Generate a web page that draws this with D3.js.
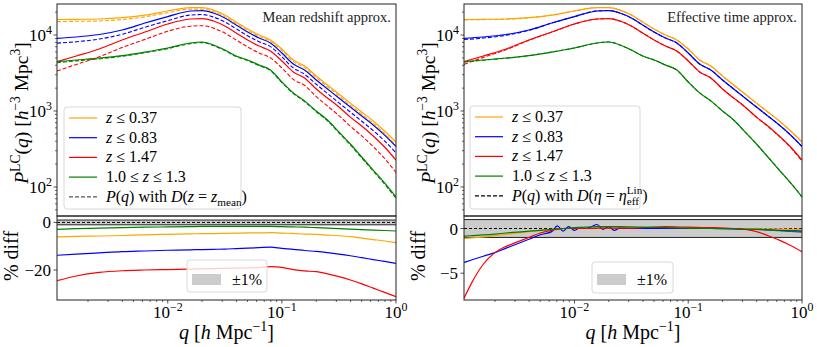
<!DOCTYPE html>
<html>
<head>
<meta charset="utf-8">
<script src="https://cdn.jsdelivr.net/npm/d3@7"></script>
<style>
  body { margin: 0; background: #fff; }
</style>
</head>
<body>
<div id="chart"></div>
<script>
// wavenumbers q [h/Mpc] for the power spectra
var q = [0.00107, 0.00158, 0.00251, 0.00398, 0.00631, 0.01, 0.0158, 0.02, 0.0251, 0.0316, 0.0398, 0.0501,
         0.0631, 0.0794, 0.1, 0.126, 0.158, 0.2, 0.251, 0.316, 0.398, 0.501, 0.631, 0.794, 1.0];

// light-cone spectra P^LC(q) (solid lines, same in both panels)
var pOrange = [16000, 16100, 16250, 16900, 18300, 20700, 23000, 23000, 21300, 18300, 14800, 12000,
               10000, 8600, 6550, 4690, 3910, 2890, 2200, 1670, 1270, 970, 740, 546, 391];
var pBlue   = [9060, 9410, 10150, 11640, 14390, 17500, 20700, 21000, 19460, 16740, 13550, 10950,
               9130, 7850, 5800, 4150, 3460, 2560, 1950, 1480, 1130, 860, 655, 483, 341];
var pRed    = [4450, 5290, 6550, 8600, 10950, 13960, 16250, 16480, 15280, 13140, 10620, 8600,
               7160, 6160, 4550, 3260, 2720, 1950, 1480, 1130, 830, 635, 469, 336, 226];
var pGreen  = [4450, 4690, 4980, 5370, 5970, 6750, 7850, 8090, 7390, 6350, 5290, 4690,
               4030, 3460, 2410, 1730, 1360, 1000, 760, 530, 368, 248, 167, 113, 74];

// P(q) with D(z = z_mean) (dashed, left)
var pMeanOrange = [15020, 15150, 15320, 15970, 17350, 19670, 21900, 21920, 20300, 17460, 14130, 11470,
                   9560, 8230, 6260, 4470, 3720, 2750, 2080, 1580, 1190, 906, 687, 503, 358];
var pMeanBlue   = [7810, 8160, 8850, 10210, 12660, 15450, 18320, 18610, 17260, 14870, 12060, 9770,
                   8160, 7030, 5170, 3680, 3050, 2250, 1700, 1280, 970, 733, 553, 404, 282];
var pMeanRed    = [3360, 4100, 5170, 6850, 8760, 11200, 13070, 13270, 12320, 10600, 8580, 6960,
                   5810, 5010, 3690, 2610, 2170, 1550, 1160, 870, 630, 471, 340, 237, 155];
var pMeanGreen  = [4320, 4570, 4860, 5250, 5850, 6620, 7710, 7950, 7260, 6240, 5200, 4610,
                   3960, 3400, 2370, 1700, 1330, 978, 742, 516, 358, 241, 162, 109, 71];

// P(q) with D(eta = eta_eff) (dashed, right)
var pEffOrange = [15820, 15950, 16140, 16840, 18280, 20700, 23000, 23000, 21300, 18300, 14800, 12000,
                  10000, 8600, 6550, 4690, 3910, 2890, 2200, 1670, 1270, 970, 740, 546, 390];
var pEffBlue   = [8720, 9120, 9930, 11500, 14340, 17470, 20790, 21040, 19470, 16740, 13550, 10950,
                  9130, 7850, 5800, 4150, 3460, 2560, 1950, 1480, 1130, 859, 654, 482, 340];
var pEffRed    = [4100, 5080, 6420, 8510, 10930, 13960, 16250, 16480, 15280, 13140, 10630, 8610,
                  7170, 6170, 4560, 3260, 2720, 1950, 1480, 1127, 827, 628, 463, 330, 220];
var pEffGreen  = [4410, 4660, 4950, 5350, 5960, 6760, 7870, 8110, 7400, 6360, 5300, 4700,
                  4030, 3460, 2410, 1730, 1360, 1000, 760, 530, 368, 248, 167, 113, 74];

// % diff, mean redshift approx (on q)
var diffMeanOrange = [-6.1, -5.9, -5.7, -5.5, -5.2, -5.0, -4.8, -4.7, -4.7, -4.6, -4.5, -4.4,
                      -4.4, -4.3, -4.5, -4.6, -4.9, -5.0, -5.3, -5.6, -6.0, -6.6, -7.2, -7.8, -8.5];
var diffMeanBlue   = [-13.8, -13.3, -12.8, -12.3, -12.0, -11.7, -11.5, -11.4, -11.3, -11.2, -11.0, -10.8,
                      -10.6, -10.4, -10.9, -11.3, -11.8, -12.2, -12.7, -13.3, -14.0, -14.8, -15.6, -16.4, -17.2];
var diffMeanRed    = [-24.5, -22.5, -21.0, -20.3, -20.0, -19.8, -19.6, -19.5, -19.4, -19.3, -19.2, -19.1,
                      -18.9, -18.6, -18.9, -19.8, -20.4, -20.7, -21.6, -22.8, -24.2, -25.8, -27.6, -29.4, -31.2];
var diffMeanGreen  = [-2.9, -2.6, -2.4, -2.2, -2.0, -1.9, -1.8, -1.7, -1.7, -1.7, -1.7, -1.7,
                      -1.7, -1.7, -1.8, -1.9, -2.0, -2.2, -2.4, -2.6, -2.8, -3.0, -3.2, -3.4, -3.6];

// % diff, effective time approx (finer q grid)
var qFine = [0.00107, 0.00126, 0.00158, 0.002, 0.00251, 0.00316, 0.00398, 0.00501, 0.00631, 0.00708, 0.00794,
             0.00891, 0.01, 0.0112, 0.0126, 0.0141, 0.0158, 0.0178, 0.02, 0.0224, 0.0251, 0.0316, 0.0398,
             0.0631, 0.1, 0.158, 0.251, 0.316, 0.398, 0.501, 0.631, 0.794, 1.0];
var diffEffOrange = [-1.1, -1.05, -0.95, -0.8, -0.65, -0.5, -0.35, -0.2, -0.1, -0.05, 0.0, 0.05, 0.05, 0.05, 0.05,
                     0.05, 0.05, 0.05, 0.05, 0.05, 0.05, 0.05, 0.05, 0.05, 0.05, 0.0, 0.0, 0.0, 0.0, -0.05, -0.05, -0.1, -0.1];
var diffEffBlue   = [-3.8, -3.5, -3.1, -2.7, -2.2, -1.7, -1.2, -0.7, -0.35, 0.3, -0.3, 0.2, -0.2, 0.1, 0.0,
                     0.2, 0.45, -0.1, 0.2, -0.2, 0.05, 0.0, 0.0, 0.0, 0.0, 0.0, -0.05, -0.1, -0.1, -0.15, -0.2, -0.25, -0.3];
var diffEffRed    = [-7.8, -6.0, -4.0, -2.7, -2.0, -1.5, -1.0, -0.5, -0.2, -0.1, 0.0, 0.0, 0.0, 0.0, 0.0,
                     0.0, 0.05, 0.05, 0.05, 0.05, 0.05, 0.05, 0.1, 0.2, 0.15, 0.1, 0.0, -0.1, -0.35, -0.8, -1.3, -1.9, -2.6];
var diffEffGreen  = [-0.85, -0.8, -0.72, -0.62, -0.5, -0.4, -0.3, -0.2, -0.1, -0.05, 0.0, 0.05, 0.1, 0.13, 0.16,
                     0.18, 0.2, 0.2, 0.2, 0.2, 0.2, 0.18, 0.15, 0.1, 0.05, 0.0, -0.05, -0.08, -0.1, -0.15, -0.25, -0.32, -0.4];

var colors = ["orange", "blue", "red", "green"];
var labels = [
  [{t: "z", it: 1}, {t: " ≤ 0.37"}],
  [{t: "z", it: 1}, {t: " ≤ 0.83"}],
  [{t: "z", it: 1}, {t: " ≤ 1.47"}],
  [{t: "1.0 ≤ "}, {t: "z", it: 1}, {t: " ≤ 1.3"}]
];

var FONT = '"Liberation Serif", "DejaVu Serif", serif';
var width = 817, height = 347;
var svg = d3.select("#chart").append("svg").attr("width", width).attr("height", height);

//Text with italic / super / subscript pieces
function rich(sel, parts, fs) {
  var prev = 0, last = null;
  parts.forEach(function(p) {
    var shift = p.sup ? -0.42 * fs : p.sub ? 0.28 * fs : 0;
    var ts = sel.append("tspan").text(p.t)
      .attr("dy", shift - prev)
      .style("font-size", ((p.sup || p.sub) ? fs * 0.7 : fs) + "px");
    if (p.it) ts.style("font-style", "italic");
    // stacked super/subscript: go back over the previous piece
    if (p.back && last) ts.attr("dx", -last.node().getComputedTextLength());
    last = ts;
    prev = shift;
  });
  return sel;
}

var panels = [
  {x0: 57, x1: 396, title: "Mean redshift approx.",
   dashed: [pMeanOrange, pMeanBlue, pMeanRed, pMeanGreen],
   dq: q, diff: [diffMeanOrange, diffMeanBlue, diffMeanRed, diffMeanGreen],
   dDomain: [-32.6, 2.7], dTicks: [0, -20], legendDash: "#555",
   legendText: [{t: "P", it: 1}, {t: "("}, {t: "q", it: 1}, {t: ") with "}, {t: "D", it: 1}, {t: "("}, {t: "z", it: 1},
                {t: " = "}, {t: "z", it: 1}, {t: "mean", sub: 1}, {t: ")"}],
   lgBox: [64, 107, 177, 102], pctBox: [187, 260, 80, 32]},
  {x0: 464, x1: 802, title: "Effective time approx.",
   dashed: [pEffOrange, pEffBlue, pEffRed, pEffGreen],
   dq: qFine, diff: [diffEffOrange, diffEffBlue, diffEffRed, diffEffGreen],
   dDomain: [-8, 1.4], dTicks: [0, -5], legendDash: "#000",
   legendText: [{t: "P", it: 1}, {t: "("}, {t: "q", it: 1}, {t: ") with "}, {t: "D", it: 1}, {t: "("}, {t: "η", it: 1},
                {t: " = "}, {t: "η", it: 1}, {t: "eff", sub: 1}, {t: "Lin", sup: 1, back: 1}, {t: ")"}],
   lgBox: [470, 106, 170, 103], pctBox: [592, 262, 81, 31]}
];

var yTop = 4, yMid = 216, yBot = 300;
var fs = 17;

panels.forEach(function(P, pi) {
  var g = svg.append("g");
  var x = d3.scaleLog().domain([0.00107, 1]).range([P.x0, P.x1]);
  var y = d3.scaleLog().domain([41.5, 25600]).range([yMid, yTop]);
  var yd = d3.scaleLinear().domain(P.dDomain).range([yBot, yMid]);

  var clipTop = "clipT" + pi, clipBot = "clipB" + pi;
  g.append("clipPath").attr("id", clipTop).append("rect")
    .attr("x", P.x0).attr("y", yTop).attr("width", P.x1 - P.x0).attr("height", yMid - yTop);
  g.append("clipPath").attr("id", clipBot).append("rect")
    .attr("x", P.x0).attr("y", yMid).attr("width", P.x1 - P.x0).attr("height", yBot - yMid);

  //top panel lines
  var line = d3.line().x(function(d) { return x(d[0]); }).y(function(d) { return y(d[1]); }).curve(d3.curveMonotoneX);
  var gt = g.append("g").attr("clip-path", "url(#" + clipTop + ")");
  [pOrange, pBlue, pRed, pGreen].forEach(function(s, i) {
    gt.append("path").datum(d3.zip(q, s)).attr("d", line)
      .attr("fill", "none").attr("stroke", colors[i]).attr("stroke-width", 1.2);
  });
  P.dashed.forEach(function(s, i) {
    gt.append("path").datum(d3.zip(q, s)).attr("d", line)
      .attr("fill", "none").attr("stroke", colors[i]).attr("stroke-width", 1.1)
      .attr("stroke-dasharray", "4,2");
  });

  //bottom panel
  var gb = g.append("g").attr("clip-path", "url(#" + clipBot + ")");
  gb.append("rect").attr("x", P.x0).attr("width", P.x1 - P.x0)
    .attr("y", yd(1)).attr("height", yd(-1) - yd(1)).attr("fill", "#cccccc");
  [1, -1].forEach(function(v) {
    gb.append("line").attr("x1", P.x0).attr("x2", P.x1).attr("y1", yd(v)).attr("y2", yd(v))
      .attr("stroke", "#222").attr("stroke-width", 1);
  });
  gb.append("line").attr("x1", P.x0).attr("x2", P.x1).attr("y1", yd(0)).attr("y2", yd(0))
    .attr("stroke", "#000").attr("stroke-width", 1).attr("stroke-dasharray", "3,2");
  var dline = d3.line().x(function(d) { return x(d[0]); }).y(function(d) { return yd(d[1]); }).curve(d3.curveMonotoneX);
  P.diff.forEach(function(s, i) {
    gb.append("path").datum(d3.zip(P.dq, s)).attr("d", dline)
      .attr("fill", "none").attr("stroke", colors[i]).attr("stroke-width", 1.2);
  });

  //frames
  [[yTop, yMid], [yMid, yBot]].forEach(function(r) {
    g.append("rect").attr("x", P.x0).attr("y", r[0]).attr("width", P.x1 - P.x0).attr("height", r[1] - r[0])
      .attr("fill", "none").attr("stroke", "#222").attr("stroke-width", 1);
  });

  //y ticks top (log)
  var majors = [100, 1000, 10000], minors = [];
  [10, 100, 1000, 10000].forEach(function(d) { for (var k = 2; k <= 9; k++) if (d * k > 41.5 && d * k < 25600) minors.push(d * k); });
  minors.forEach(function(v) {
    g.append("line").attr("x1", P.x0 - 2).attr("x2", P.x0).attr("y1", y(v)).attr("y2", y(v)).attr("stroke", "#222").attr("stroke-width", 0.7);
  });
  majors.forEach(function(v, i) {
    g.append("line").attr("x1", P.x0 - 3.5).attr("x2", P.x0).attr("y1", y(v)).attr("y2", y(v)).attr("stroke", "#222").attr("stroke-width", 0.8);
    rich(g.append("text").attr("x", P.x0 - 5).attr("y", y(v) + 6).attr("text-anchor", "end"),
      [{t: "10"}, {t: String(i + 2), sup: 1}], fs);
  });

  //y ticks bottom
  P.dTicks.forEach(function(v) {
    g.append("line").attr("x1", P.x0 - 3.5).attr("x2", P.x0).attr("y1", yd(v)).attr("y2", yd(v)).attr("stroke", "#222").attr("stroke-width", 0.8);
    g.append("text").attr("x", P.x0 - 6).attr("y", yd(v) + 6).attr("text-anchor", "end")
      .style("font-size", fs + "px").text(v < 0 ? "−" + (-v) : String(v));
  });

  //x ticks bottom
  [0.001, 0.01, 0.1].forEach(function(d) {
    for (var k = 2; k <= 9; k++) {
      g.append("line").attr("x1", x(d * k)).attr("x2", x(d * k)).attr("y1", yBot).attr("y2", yBot + 2)
        .attr("stroke", "#222").attr("stroke-width", 0.7);
    }
  });
  [0.01, 0.1, 1].forEach(function(v, i) {
    g.append("line").attr("x1", x(v)).attr("x2", x(v)).attr("y1", yBot).attr("y2", yBot + 3.5).attr("stroke", "#222").attr("stroke-width", 0.8);
    rich(g.append("text").attr("x", x(v)).attr("y", yBot + 18).attr("text-anchor", "middle"),
      [{t: "10"}, {t: i < 2 ? "−" + (2 - i) : "0", sup: 1}], fs);
  });

  //axis labels
  var cx = (P.x0 + P.x1) / 2;
  rich(g.append("text").attr("x", cx).attr("y", 339).attr("text-anchor", "middle"),
    [{t: "q", it: 1}, {t: " ["}, {t: "h", it: 1}, {t: " Mpc"}, {t: "−1", sup: 1}, {t: "]"}], 20);
  rich(g.append("text").attr("transform", "translate(" + (P.x0 - 29) + "," + 113 + ") rotate(-90)").attr("text-anchor", "middle"),
    [{t: "P", it: 1}, {t: "LC", sup: 1}, {t: "("}, {t: "q", it: 1}, {t: ") ["}, {t: "h", it: 1}, {t: "−3", sup: 1}, {t: " Mpc"}, {t: "3", sup: 1}, {t: "]"}], 19.5);
  g.append("text").attr("transform", "translate(" + (P.x0 - 39) + "," + 256 + ") rotate(-90)").attr("text-anchor", "middle")
    .style("font-size", "20px").text("% diff");

  //title
  g.append("text").attr("x", P.x1 - 5).attr("y", 22).attr("text-anchor", "end")
    .style("font-size", "14.5px").attr("fill", "#222").text(P.title);

  //legend
  var b = P.lgBox;
  var lg = g.append("g");
  lg.append("rect").attr("x", b[0]).attr("y", b[1]).attr("width", b[2]).attr("height", b[3]).attr("rx", 3)
    .attr("fill", "#fff").attr("fill-opacity", 0.8).attr("stroke", "#d8d8d8").attr("stroke-width", 1);
  var rows = labels.concat([P.legendText]);
  rows.forEach(function(parts, i) {
    var ry = b[1] + 11 + i * 19.7;
    lg.append("line").attr("x1", b[0] + 5).attr("x2", b[0] + 33).attr("y1", ry).attr("y2", ry)
      .attr("stroke", i < 4 ? colors[i] : P.legendDash).attr("stroke-width", 1.2)
      .attr("stroke-dasharray", i < 4 ? null : "4,2");
    rich(lg.append("text").attr("x", b[0] + 42).attr("y", ry + 5), parts, 16);
  });

  //±1% legend
  var c = P.pctBox;
  g.append("rect").attr("x", c[0]).attr("y", c[1]).attr("width", c[2]).attr("height", c[3]).attr("rx", 3)
    .attr("fill", "#fff").attr("fill-opacity", 0.8).attr("stroke", "#d8d8d8");
  g.append("rect").attr("x", c[0] + 5).attr("y", 274).attr("width", 29).attr("height", 11).attr("fill", "#cccccc");
  g.append("text").attr("x", c[0] + 45).attr("y", 285).style("font-size", "16px").text("±1%");
});

//force the serif face on every text piece
svg.selectAll("text, tspan").style("font-family", FONT, "important");
</script>
</body>
</html>
